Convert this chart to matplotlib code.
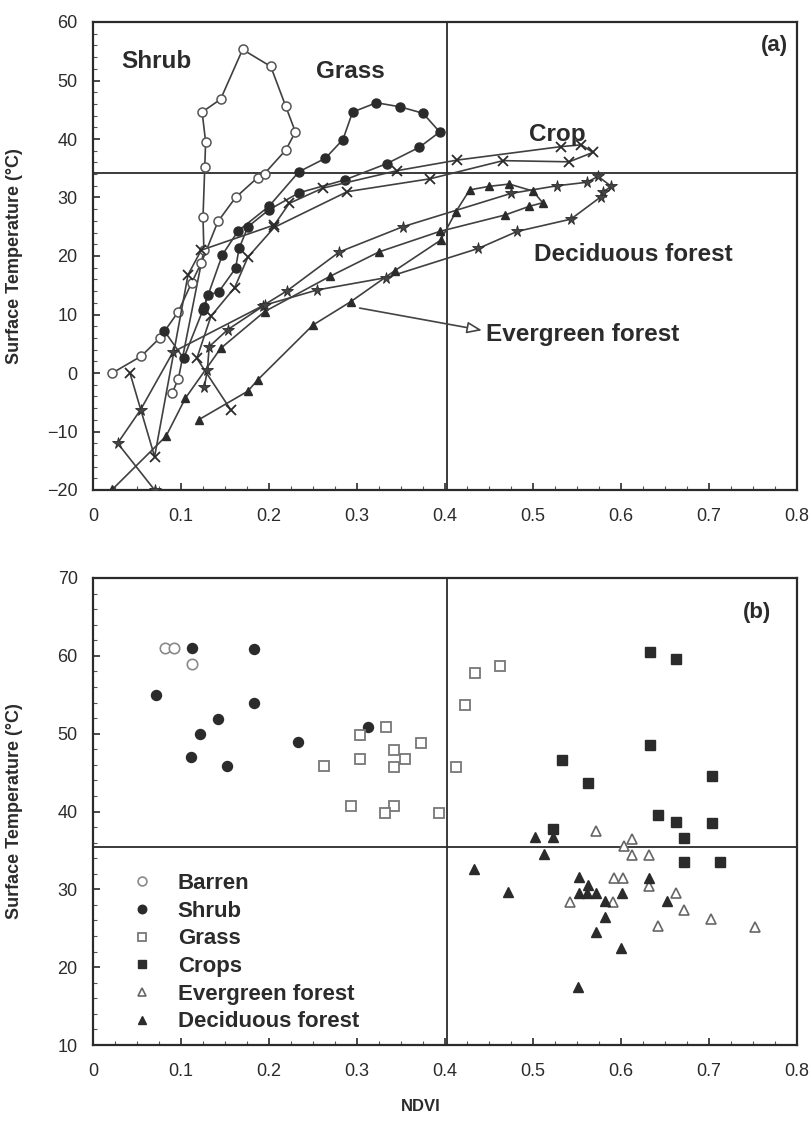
import matplotlib
matplotlib.use("Agg")
import matplotlib.pyplot as plt
from matplotlib.ticker import MultipleLocator, FixedLocator, FixedFormatter

plt.rcParams['font.family'] = ['Liberation Sans', 'DejaVu Sans']

# ---------------- Panel (a): seasonal trajectories ----------------
shrub_ndvi = [0.022, 0.055, 0.076, 0.097, 0.112, 0.123, 0.142, 0.162, 0.187, 0.195, 0.219, 0.230,
              0.219, 0.202, 0.170, 0.145, 0.124, 0.128, 0.127, 0.125, 0.126, 0.097, 0.090]
shrub_temp = [0.0, 2.9, 6.0, 10.5, 15.4, 18.8, 25.9, 30.0, 33.4, 34.1, 38.1, 41.2,
              45.6, 52.4, 55.3, 46.8, 44.6, 39.5, 35.2, 26.6, 21.0, -1.0, -3.4]

grass_ndvi = [0.081, 0.103, 0.125, 0.131, 0.143, 0.162, 0.166, 0.176, 0.200, 0.234, 0.286, 0.334,
              0.371, 0.394, 0.375, 0.349, 0.322, 0.295, 0.284, 0.264, 0.234, 0.200, 0.165, 0.147, 0.126]
grass_temp = [7.2, 2.5, 10.8, 13.3, 13.9, 17.9, 21.3, 25.0, 27.9, 30.8, 33.0, 35.8,
              38.6, 41.2, 44.4, 45.5, 46.2, 44.6, 39.9, 36.7, 34.4, 28.5, 24.3, 20.2, 11.3]

crop_ndvi = [0.042, 0.070, 0.108, 0.123, 0.206, 0.223, 0.261, 0.346, 0.414, 0.532, 0.555, 0.568,
             0.541, 0.466, 0.383, 0.289, 0.206, 0.176, 0.161, 0.134, 0.118, 0.157]
crop_temp = [0.0, -14.3, 16.8, 21.0, 25.3, 29.0, 31.6, 34.6, 36.4, 38.7, 39.0, 37.7,
             36.1, 36.3, 33.2, 31.0, 24.9, 19.8, 14.6, 9.7, 2.5, -6.4]

decid_ndvi = [0.070, 0.028, 0.054, 0.091, 0.193, 0.221, 0.280, 0.352, 0.475, 0.527, 0.561, 0.574,
              0.589, 0.580, 0.577, 0.543, 0.482, 0.438, 0.333, 0.255, 0.195, 0.153, 0.132, 0.130, 0.1265]
decid_temp = [-20.0, -12.0, -6.3, 3.6, 11.5, 14.1, 20.7, 25.0, 30.7, 32.0, 32.6, 33.6,
              31.9, 31.0, 30.1, 26.3, 24.2, 21.3, 16.3, 14.2, 11.6, 7.4, 4.5, 0.5, -2.4]

everg_ndvi = [0.120, 0.176, 0.187, 0.250, 0.293, 0.343, 0.395, 0.4125, 0.428, 0.450, 0.473, 0.500,
              0.511, 0.496, 0.468, 0.394, 0.325, 0.269, 0.195, 0.145, 0.105, 0.083, 0.022]
everg_temp = [-8.0, -3.1, -1.2, 8.2, 12.2, 17.5, 22.7, 27.6, 31.3, 31.9, 32.3, 31.1,
              29.1, 28.5, 27.0, 24.2, 20.7, 16.5, 10.5, 4.2, -4.3, -10.8, -19.9]

# ---------------- Panel (b): scatter by land cover ----------------
barren_ndvi = [0.082, 0.092, 0.112]
barren_temp = [61.0, 61.0, 59.0]

shrubb_ndvi = [0.112, 0.183, 0.072, 0.183, 0.142, 0.122, 0.111, 0.152, 0.233, 0.313]
shrubb_temp = [61.0, 60.9, 55.0, 53.9, 51.9, 50.0, 47.0, 45.9, 48.9, 50.9]

grassb_ndvi = [0.303, 0.333, 0.373, 0.342, 0.354, 0.342, 0.303, 0.263, 0.293, 0.342, 0.332, 0.393,
               0.4125, 0.423, 0.434, 0.463]
grassb_temp = [49.8, 50.8, 48.75, 47.9, 46.8, 45.75, 46.8, 45.8, 40.7, 40.7, 39.75, 39.75,
               45.75, 53.7, 57.75, 58.7]

crops_ndvi = [0.633, 0.663, 0.633, 0.533, 0.563, 0.703, 0.642, 0.663, 0.703, 0.672, 0.523, 0.672, 0.713]
crops_temp = [60.5, 59.55, 48.6, 46.6, 43.6, 44.6, 39.6, 38.6, 38.55, 36.6, 37.7, 33.5, 33.5]

evergb_ndvi = [0.572, 0.612, 0.603, 0.612, 0.632, 0.592, 0.602, 0.632, 0.542, 0.591, 0.663, 0.672,
               0.702, 0.642, 0.752]
evergb_temp = [37.5, 36.5, 35.6, 34.4, 34.4, 31.5, 31.5, 30.4, 28.4, 28.4, 29.5, 27.3,
               26.25, 25.3, 25.2]

decidb_ndvi = [0.502, 0.523, 0.512, 0.433, 0.472, 0.552, 0.562, 0.552, 0.561, 0.572, 0.582, 0.601,
               0.632, 0.652, 0.582, 0.572, 0.600, 0.551]
decidb_temp = [36.7, 36.7, 34.5, 32.6, 29.6, 31.6, 30.5, 29.55, 29.55, 29.55, 28.5, 29.55,
               31.5, 28.5, 26.4, 24.5, 22.5, 17.5]

xticks = [0, 0.1, 0.2, 0.3, 0.4, 0.5, 0.6, 0.7, 0.8]
xtick_labels = ['0', '0.1', '0.2', '0.3', '0.4', '0.5', '0.6', '0.7', '0.8']

ndvi_threshold = 0.402
temp_threshold_a = 34.2
temp_threshold_b = 35.4

DARK = '#2b2b2b'
LINE = '#404040'

fig = plt.figure(figsize=(8.11, 11.24), dpi=100)
W, H = 811.0, 1124.0
L, R = 93 / W, 797 / W
axa = fig.add_axes([L, 1 - 490 / H, R - L, (490 - 22) / H])
axb = fig.add_axes([L, 1 - 1045 / H, R - L, (1045 - 578) / H])


def style_axes(ax, ymin, ymax):
    ax.set_xlim(0, 0.8)
    ax.set_ylim(ymin, ymax)
    ax.xaxis.set_major_locator(FixedLocator(xticks))
    ax.xaxis.set_major_formatter(FixedFormatter(xtick_labels))
    ax.xaxis.set_minor_locator(MultipleLocator(0.025))
    ax.yaxis.set_major_locator(MultipleLocator(10))
    ax.yaxis.set_minor_locator(MultipleLocator(2))
    ax.tick_params(axis='both', which='major', direction='in', length=5, width=1.2,
                   labelsize=13, colors=DARK)
    ax.tick_params(axis='x', which='major', pad=13)
    ax.tick_params(axis='y', which='major', pad=11)
    ax.tick_params(axis='both', which='minor', direction='in', length=3, width=0.8, colors='#555')
    ax.tick_params(axis='x', which='both', top=False)
    ax.tick_params(axis='y', which='both', right=False)
    for s in ax.spines.values():
        s.set_linewidth(1.6)
        s.set_color(DARK)
    ax.set_ylabel('Surface Temperature (°C)', fontsize=13, fontweight='bold', color=DARK)
    ax.yaxis.set_label_coords(-0.1, 0.5)


# ----- panel (a)
style_axes(axa, -20, 60)
axa.axvline(ndvi_threshold, color=DARK, lw=1.3, zorder=1)
axa.axhline(temp_threshold_a, color=DARK, lw=1.3, zorder=1)

axa.plot(shrub_ndvi, shrub_temp, color=LINE, lw=1.2, marker='o', ms=6.5, mfc='white',
         mec='#555555', mew=1.1, zorder=3)
axa.plot(grass_ndvi, grass_temp, color=LINE, lw=1.2, marker='o', ms=6.5, mfc=DARK,
         mec=DARK, zorder=3)
axa.plot(crop_ndvi, crop_temp, color=LINE, lw=1.2, marker='x', ms=7.5, mec=DARK, mew=1.3, zorder=3)
axa.plot(decid_ndvi, decid_temp, color=LINE, lw=1.2, marker='*', ms=8.5, mfc='#444444',
         mec=DARK, mew=0.6, zorder=3)
axa.plot(everg_ndvi, everg_temp, color=LINE, lw=1.2, marker='^', ms=6, mfc=DARK,
         mec=DARK, zorder=3)

lab_kw = dict(fontsize=17.5, fontweight='bold', color=DARK)
axa.text(0.0716, 53.2, 'Shrub', ha='center', va='center', **lab_kw)
axa.text(0.292, 51.5, 'Grass', ha='center', va='center', **lab_kw)
axa.text(0.528, 40.7, 'Crop', ha='center', va='center', **lab_kw)
axa.text(0.501, 20.2, 'Deciduous forest', ha='left', va='center', **lab_kw)
axa.text(0.447, 6.5, 'Evergreen forest', ha='left', va='center', **lab_kw)
axa.text(0.774, 56.0, '(a)', ha='center', va='center', fontsize=16, fontweight='bold', color=DARK)
axa.annotate('', xy=(0.442, 7.3), xytext=(0.303, 11.1),
             arrowprops=dict(arrowstyle='-|>,head_length=0.9,head_width=0.35',
                             fc='white', ec='#444444', lw=1.2, shrinkA=0, shrinkB=0))

# ----- panel (b)
style_axes(axb, 10, 70)
axb.axvline(ndvi_threshold, color=DARK, lw=1.3, zorder=1)
axb.axhline(temp_threshold_b, color=DARK, lw=1.3, zorder=1)

axb.plot(barren_ndvi, barren_temp, ls='none', marker='o', ms=7.5, mfc='white', mec='#8a8a8a',
         mew=1.2, label='Barren', zorder=3)
axb.plot(shrubb_ndvi, shrubb_temp, ls='none', marker='o', ms=7.2, mfc=DARK, mec=DARK,
         label='Shrub', zorder=3)
axb.plot(grassb_ndvi, grassb_temp, ls='none', marker='s', ms=6.8, mfc='white', mec='#777777',
         mew=1.3, label='Grass', zorder=3)
axb.plot(crops_ndvi, crops_temp, ls='none', marker='s', ms=6.8, mfc=DARK, mec=DARK,
         label='Crops', zorder=3)
axb.plot(evergb_ndvi, evergb_temp, ls='none', marker='^', ms=7.2, mfc='white', mec='#666666',
         mew=1.2, label='Evergreen forest', zorder=3)
axb.plot(decidb_ndvi, decidb_temp, ls='none', marker='^', ms=7.2, mfc=DARK, mec=DARK,
         label='Deciduous forest', zorder=3)

axb.text(0.755, 65.6, '(b)', ha='center', va='center', fontsize=16, fontweight='bold', color=DARK)

leg = axb.legend(loc='upper left', bbox_to_anchor=(0.054, 0.368), frameon=False,
                 prop={'size': 16, 'weight': 'bold'}, handlelength=1.0, handletextpad=1.1,
                 labelspacing=0.3, markerscale=0.85, borderaxespad=0, borderpad=0)
for t in leg.get_texts():
    t.set_color(DARK)

axb.set_xlabel('NDVI', fontsize=12, fontweight='bold', color=DARK)
axb.xaxis.set_label_coords(0.466, -0.115)

fig.savefig('out.png', dpi=100)
